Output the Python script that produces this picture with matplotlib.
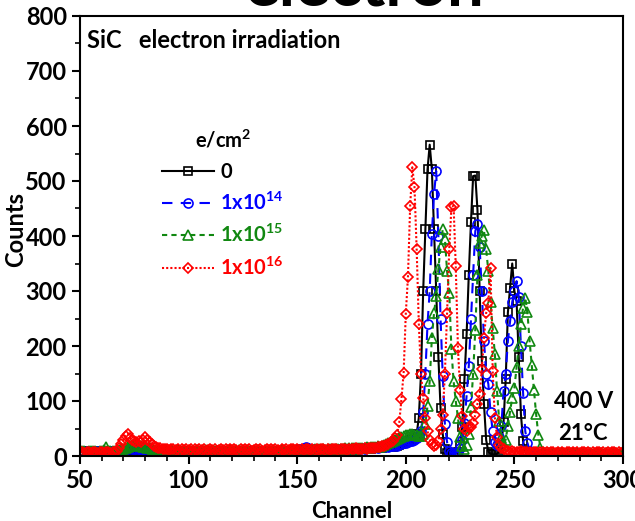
import numpy as np
import matplotlib
matplotlib.use('Agg')
import matplotlib.pyplot as plt
from matplotlib.ticker import MultipleLocator

plt.rcParams['font.family'] = ['Lato', 'DejaVu Sans']
plt.rcParams['font.weight'] = 'bold'
plt.rcParams['mathtext.fontset'] = 'custom'
plt.rcParams['mathtext.rm'] = 'Lato:bold'
plt.rcParams['mathtext.bf'] = 'Lato:bold'
plt.rcParams['mathtext.it'] = 'Lato:bold:italic'
plt.rcParams['mathtext.default'] = 'bf'

# ---------------- data (channel 50 ... 300) ----------------
channels = np.arange(50, 301)

counts_0 = [
    8, 9, 7, 8, 9, 8, 7, 8, 9, 8,            # 50
    9, 8, 9, 8, 7, 8, 9, 8, 9, 10,           # 60
    11, 12, 11, 13, 12, 11, 12, 10, 11, 10,  # 70
    11, 10, 9, 10, 9, 8, 9, 8, 9, 8,         # 80
    9, 8, 9, 8, 9, 10, 8, 9, 8, 9,           # 90
    8, 9, 8, 9, 10, 9, 8, 9, 8, 9,           # 100
    9, 8, 9, 8, 9, 8, 9, 10, 8, 9,           # 110
    8, 9, 8, 9, 8, 9, 10, 9, 8, 9,           # 120
    9, 8, 9, 10, 9, 8, 9, 8, 9, 8,           # 130
    9, 8, 9, 8, 9, 10, 9, 8, 9, 9,           # 140
    10, 9, 10, 11, 12, 11, 10, 9, 10, 9,     # 150
    10, 9, 10, 9, 10, 11, 10, 9, 10, 11,     # 160
    10, 11, 10, 11, 12, 11, 12, 11, 12, 12,  # 170
    13, 12, 13, 14, 13, 14, 15, 14, 16, 15,  # 180
    16, 17, 16, 18, 17, 19, 18, 20, 22, 24,  # 190
    25, 27, 29, 31, 34, 40, 70, 150, 300, 413,      # 200
    521, 566, 521, 413, 300, 180, 87, 40, 12, 5,    # 210
    3, 2, 3, 4, 8, 20, 52, 140, 221, 330,           # 220
    425, 509, 510, 447, 300, 173, 94, 29, 8, 4,     # 230
    3, 3, 4, 8, 20, 61, 140, 261, 306, 350,         # 240
    300, 282, 180, 76, 27, 9, 4, 3, 2, 3,           # 250
    3, 4, 3, 2, 3, 4, 3, 3, 2, 3,                   # 260
    3, 2, 3, 4, 3, 2, 3, 3, 4, 3,                   # 270
    2, 3, 3, 4, 3, 2, 3, 4, 3, 2,                   # 280
    3, 3, 2, 3, 4, 3, 2, 3, 3, 4,                   # 290
    3,                                              # 300
]

counts_14 = [
    9, 10, 8, 9, 10, 9, 8, 9, 10, 9,
    10, 9, 8, 10, 9, 10, 9, 8, 10, 11,
    12, 13, 12, 14, 13, 12, 13, 12, 11, 12,
    11, 10, 11, 10, 9, 10, 9, 10, 9, 10,
    9, 10, 9, 10, 9, 8, 10, 9, 10, 9,
    10, 9, 10, 9, 8, 10, 9, 10, 9, 10,
    9, 10, 9, 10, 9, 10, 8, 9, 10, 9,
    10, 9, 10, 9, 10, 9, 8, 10, 9, 10,
    9, 10, 9, 8, 10, 9, 10, 9, 10, 9,
    10, 9, 10, 9, 10, 9, 10, 11, 10, 11,
    11, 12, 13, 14, 16, 15, 13, 12, 11, 12,
    11, 12, 11, 10, 11, 12, 11, 12, 11, 12,
    12, 11, 12, 13, 12, 13, 12, 13, 14, 13,
    14, 13, 14, 15, 14, 15, 16, 15, 16, 17,
    17, 18, 17, 19, 18, 20, 19, 21, 22, 23,
    24, 25, 27, 28, 30, 33, 38, 45, 80, 150,        # 200
    240, 300, 404, 476, 518, 400, 250, 146, 58, 25, # 210
    10, 6, 5, 6, 8, 15, 30, 60, 110, 164,           # 220
    249, 330, 409, 421, 380, 300, 210, 149, 131, 80,  # 230
    45, 25, 20, 35, 55, 118, 150, 209, 245, 280,    # 240
    300, 318, 290, 200, 115, 45, 24, 10, 5, 4,      # 250
    4, 3, 4, 3, 4, 3, 4, 3, 3, 4,
    3, 4, 3, 4, 3, 3, 4, 3, 4, 3,
    4, 3, 3, 4, 3, 4, 3, 3, 4, 3,
    3, 4, 3, 4, 3, 3, 4, 3, 4, 3,
    4,
]

counts_15 = [
    9, 10, 9, 8, 10, 9, 10, 9, 8, 10,
    9, 11, 17, 10, 9, 10, 9, 10, 11, 12,
    13, 15, 17, 18, 20, 19, 21, 20, 18, 17,
    16, 15, 14, 12, 11, 10, 10, 9, 10, 9,
    10, 9, 10, 9, 10, 11, 9, 10, 9, 10,
    9, 10, 9, 10, 9, 10, 9, 10, 11, 9,
    10, 9, 10, 9, 10, 9, 10, 9, 10, 11,
    10, 9, 10, 11, 9, 10, 9, 10, 9, 10,
    9, 10, 11, 10, 9, 10, 9, 10, 9, 10,
    10, 9, 10, 11, 10, 9, 10, 11, 10, 9,
    10, 11, 10, 11, 12, 11, 10, 11, 12, 11,
    12, 11, 12, 11, 12, 13, 12, 11, 12, 13,
    12, 13, 14, 13, 14, 15, 14, 13, 14, 15,
    14, 15, 16, 15, 16, 17, 16, 18, 17, 19,
    20, 21, 23, 25, 27, 29, 31, 33, 35, 36,          # 190
    38, 39, 40, 40, 39, 38, 37, 36, 40, 58,          # 200
    91, 136, 215, 260, 291, 340, 380, 412, 395, 336, # 210
    297, 194, 136, 100, 70, 35, 18, 12, 20, 40,      # 220
    90, 150, 230, 330, 388, 400, 410, 376, 336, 280, # 230
    233, 185, 118, 64, 33, 20, 30, 55, 80, 106,      # 240
    124, 161, 200, 240, 270, 288, 261, 209, 165, 120, # 250
    76, 39, 15, 7, 5, 4, 5, 4, 5, 4,
    5, 4, 5, 4, 5, 4, 4, 5, 4, 5,
    4, 5, 4, 5, 4, 5, 4, 4, 5, 4,
    5, 4, 5, 4, 4, 5, 4, 5, 4, 5,
    4,
]

counts_16 = [
    6, 7, 6, 8, 7, 6, 7, 8, 6, 7,
    7, 6, 8, 7, 6, 7, 8, 10, 15, 22,
    30, 37, 40, 33, 30, 28, 26, 28, 25, 30,
    35, 30, 26, 22, 19, 17, 15, 14, 13, 12,
    12, 11, 13, 12, 11, 12, 10, 12, 11, 12,
    11, 12, 10, 12, 11, 13, 11, 12, 10, 11,
    12, 11, 12, 10, 11, 12, 11, 13, 11, 12,
    11, 12, 11, 10, 12, 11, 12, 11, 12, 10,
    11, 12, 11, 12, 10, 11, 12, 11, 12, 11,
    12, 11, 10, 12, 11, 12, 11, 12, 13, 11,
    12, 11, 12, 11, 12, 13, 11, 12, 11, 12,
    11, 12, 13, 11, 12, 11, 12, 13, 12, 11,
    12, 13, 12, 11, 13, 12, 13, 14, 12, 13,
    13, 14, 13, 14, 15, 14, 15, 16, 17, 18,
    18, 20, 22, 25, 28, 32, 39, 61, 104, 151,        # 190
    259, 326, 454, 525, 489, 376, 240, 150, 106, 70, # 200
    45, 30, 22, 18, 20, 28, 50, 75, 150, 260,        # 210
    376, 452, 455, 345, 197, 120, 73, 50, 45, 52,    # 220
    52, 60, 75, 95, 112, 158, 215, 260, 279, 342,    # 230
    155, 70, 35, 20, 14, 12, 10, 9, 8, 9,            # 240
    8, 7, 8, 9, 7, 8, 7, 8, 6, 7,
    7, 6, 7, 8, 6, 7, 6, 7, 8, 6,
    7, 6, 7, 6, 8, 7, 6, 7, 6, 7,
    6, 7, 8, 6, 7, 6, 7, 6, 7, 8,
    6, 7, 6, 7, 6, 7, 8, 6, 7, 6,
    7,
]

labels = ['0', '1x10$^{14}$', '1x10$^{15}$', '1x10$^{16}$']
colors = ['black', '#0000ff', '#118811', '#ff0000']

# ---------------- figure ----------------
fig = plt.figure(figsize=(6.35, 5.21), dpi=100)
ax = fig.add_axes([80/635, 65/521, 543/635, 440/521])

ax.plot(channels, counts_0, color=colors[0], lw=1.5, ls='-',
        marker='s', ms=6, mfc='none', mew=1.2, label=labels[0])
ax.plot(channels, counts_14, color=colors[1], lw=1.5, ls=(0, (5, 4)),
        marker='o', ms=6.5, mfc='none', mew=1.2, label=labels[1])
ax.plot(channels, counts_15, color=colors[2], lw=1.5, ls=(0, (2.5, 2)),
        marker='^', ms=6.5, mfc='none', mew=1.2, label=labels[2])
ax.plot(channels, counts_16, color=colors[3], lw=1.5, ls=(0, (1, 1)),
        marker='D', ms=5, mfc='none', mew=1.2, label=labels[3])

ax.set_xlim(50, 300)
ax.set_ylim(0, 800)
ax.xaxis.set_major_locator(MultipleLocator(50))
ax.xaxis.set_minor_locator(MultipleLocator(10))
ax.yaxis.set_major_locator(MultipleLocator(100))
ax.yaxis.set_minor_locator(MultipleLocator(50))
ax.tick_params(which='major', direction='out', length=6, width=1.5,
               labelsize=17, top=False, right=False)
ax.tick_params(which='minor', direction='out', length=3.5, width=1.2,
               top=False, right=False)
for sp in ax.spines.values():
    sp.set_linewidth(1.5)

ax.set_xlabel('Channel', fontsize=16, fontweight='bold', labelpad=6)
ax.set_ylabel('Counts', fontsize=17, fontweight='bold')
ax.yaxis.set_label_coords(-0.097, 0.515)

leg = ax.legend(title='e/cm$^{2}$', loc='upper left',
                bbox_to_anchor=(0.151, 0.742), frameon=False,
                fontsize=14.5, title_fontsize=14.5, handlelength=2.6,
                handletextpad=0.3, labelspacing=0.5, borderaxespad=0,
                borderpad=0, numpoints=1)
leg.get_title().set_fontweight('bold')
for t, c in zip(leg.get_texts(), colors):
    t.set_color(c)
    t.set_fontweight('bold')

ax.text(0.013, 0.945, 'SiC   electron irradiation', transform=ax.transAxes,
        ha='left', va='center', fontsize=17, fontweight='bold')
ax.text(0.928, 0.125, '400 V', transform=ax.transAxes,
        ha='center', va='center', fontsize=16, fontweight='bold')
ax.text(0.926, 0.052, '21\u00b0C', transform=ax.transAxes,
        ha='center', va='center', fontsize=16, fontweight='bold')

fig.text(365/635, 1 - 6/521, 'electron', ha='center', va='baseline',
         fontsize=47, fontweight='bold')

fig.savefig('out.png', dpi=100)
